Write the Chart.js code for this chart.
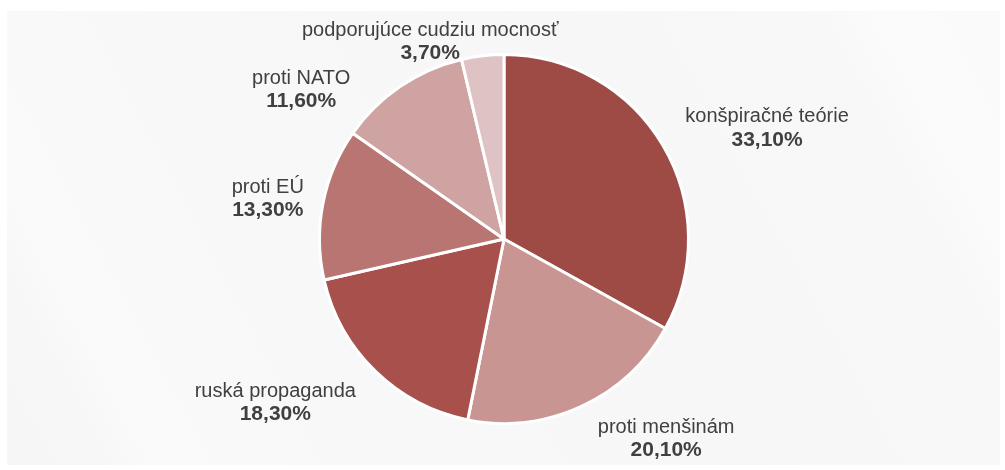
<!DOCTYPE html>
<html>
<head>
<meta charset="utf-8">
<script src="https://cdn.jsdelivr.net/npm/chart.js@4/dist/chart.umd.min.js"></script>
<style>
  html, body { margin: 0; padding: 0; background: #ffffff; }
  #panel {
    position: absolute; left: 7px; top: 11px; width: 993px; height: 454px;
    background: linear-gradient(62deg, #f6f6f6 0%, #f7f7f7 8%, #fafafa 12%, #f8f8f8 30%, #f7f7f7 60%, #f8f8f8 85%, #fbfbfb 90%, #fafafa 100%);
  }
  #wrap { position: absolute; left: 0; top: 0; width: 1005px; height: 470px; }
</style>
</head>
<body>
<div id="panel"></div>
<div id="wrap"><canvas id="chart" width="1005" height="470"></canvas></div>
<script>
const categories = ['konšpiračné teórie', 'proti menšinám', 'ruská propaganda', 'proti EÚ', 'proti NATO', 'podporujúce cudziu mocnosť'];
const shares = [33.1, 20.1, 18.3, 13.3, 11.6, 3.7];
const valueLabels = ['33,10%', '20,10%', '18,30%', '13,30%', '11,60%', '3,70%'];

const sliceColors = ['#9e4b46', '#c99593', '#a8504c', '#b97572', '#cfa3a2', '#dfc2c3'];
// label placement: angle nudge (deg) and distance as a multiple of the radius
const labelNudge = [7.4, -14.4, 10.4, -1.1, -19.2, -13.7];
const labelDist = [1.55, 1.39, 1.52, 1.30, 1.37, 1.15];

const outsideLabels = {
    id: 'outsideLabels',
    afterDatasetsDraw(chart) {
        const ctx = chart.ctx;
        const arcs = chart.getDatasetMeta(0).data;
        ctx.save();
        ctx.textAlign = 'center';
        ctx.textBaseline = 'middle';
        ctx.fillStyle = '#404040';
        arcs.forEach((arc, i) => {
            const mid = (arc.startAngle + arc.endAngle) / 2 + labelNudge[i] * Math.PI / 180;
            const d = arc.outerRadius * labelDist[i];
            const x = arc.x + Math.cos(mid) * d;
            const y = arc.y + Math.sin(mid) * d;
            ctx.font = '20px "Liberation Sans", Arial, sans-serif';
            ctx.fillText(categories[i], x, y - 10);
            ctx.font = 'bold 21px "Liberation Sans", Arial, sans-serif';
            ctx.fillText(valueLabels[i], x, y + 13);
        });
        ctx.restore();
    }
};

new Chart(document.getElementById('chart'), {
    type: 'pie',
    data: {
        labels: categories,
        datasets: [{
            data: shares,
            backgroundColor: sliceColors,
            borderColor: '#ffffff',
            borderWidth: 3
        }]
    },
    options: {
        responsive: false,
        animation: false,
        layout: { padding: { left: 318, right: 315, top: 53, bottom: 45 } },
        plugins: {
            legend: { display: false },
            tooltip: { enabled: false }
        }
    },
    plugins: [outsideLabels]
});
</script>
</body>
</html>
